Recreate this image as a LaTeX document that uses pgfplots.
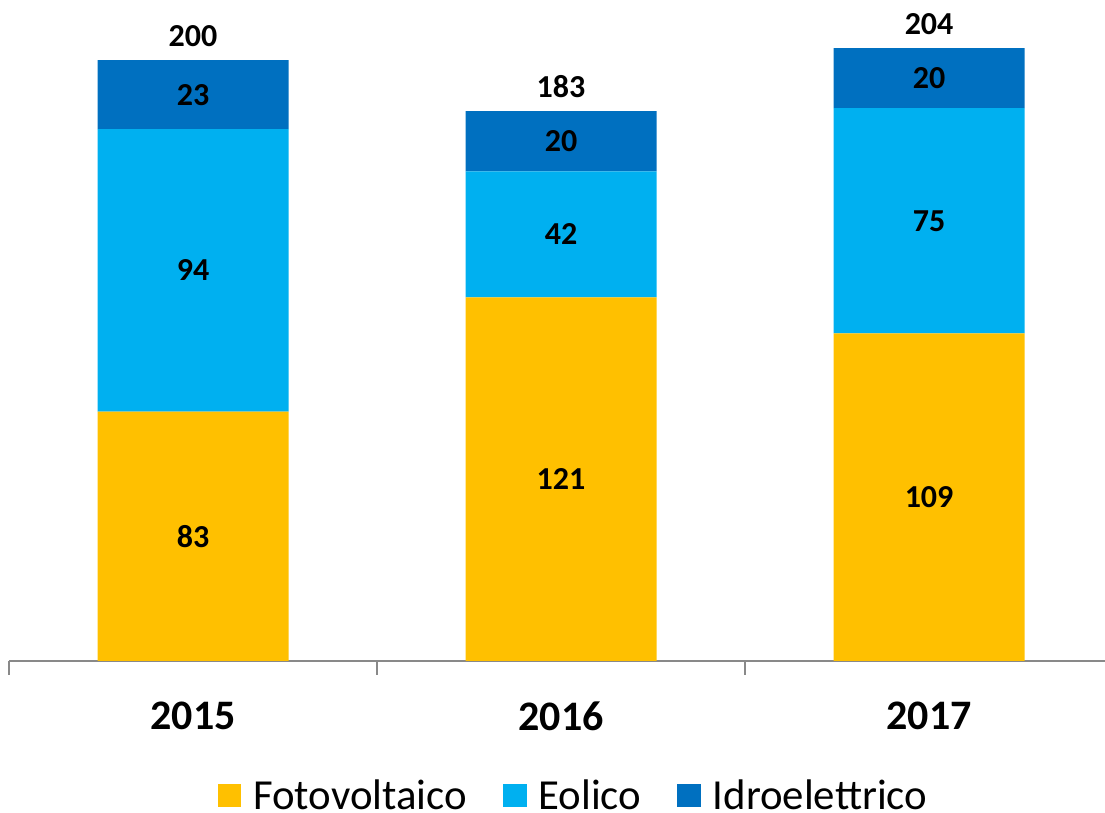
\documentclass[border=0pt]{standalone}
\usepackage{pgfplots}
\pgfplotsset{compat=1.18}
\usepackage{fontspec}
\setmainfont{Carlito}
\definecolor{foto}{HTML}{FFC000}
\definecolor{eol}{HTML}{00B0F0}
\definecolor{idro}{HTML}{0070C0}
\definecolor{axgray}{HTML}{898989}
\pgfplotsset{
  seglabel/.style={nodes near coords, point meta=explicit,
    every node near coord/.append style={anchor=center, text=black,
      font=\bfseries\fontsize{16}{19}\selectfont}},
}
\begin{document}
\begin{tikzpicture}
\useasboundingbox (0,0) rectangle (552.5pt,406.5pt);
\begin{axis}[
  at={(4.5pt,76pt)}, anchor=south west,
  scale only axis, width=548pt, height=330.5pt,
  xmin=-0.5, xmax=2.478, ymin=0, ymax=220,
  ybar stacked, bar width=95.5pt,
  axis x line*=bottom, axis y line=none,
  x axis line style={draw=axgray, line width=0.75pt, -},
  xtick={0,1,2}, xticklabels={2015,2016,2017},
  major tick length=0pt,
  minor xtick={-0.5,0.5,1.5},
  minor x tick style={draw=axgray, line width=0.75pt},
  minor tick length=7pt,
  tick align=outside,
  xticklabel style={font=\bfseries\fontsize{21}{25}\selectfont, yshift=-17pt},
  /pgf/number format/assume math mode=true,
  legend columns=3,
  legend style={at={(0.515,-0.2045)}, anchor=center, draw=none,
    font=\fontsize{21.4}{25}\selectfont,
    nodes={inner sep=1pt},
    /tikz/every odd column/.append style={column sep=5pt},
    /tikz/every even column/.append style={column sep=17pt}},
  legend image code/.code={\fill[#1] (0pt,-5.4pt) rectangle (11.8pt,6.2pt);},
]
\addplot[fill=foto, draw=none, seglabel] coordinates {(0,83) [83] (1,121) [121] (2,109) [109]};
\addplot[fill=eol, draw=none, seglabel] coordinates {(0,94) [94] (1,42) [42] (2,75) [75]};
\addplot[fill=idro, draw=none, seglabel] coordinates {(0,23) [23] (1,20) [20] (2,20) [20]};
\addplot[stack plots=false, draw=none, fill=none, nodes near coords, point meta=explicit,
  visualization depends on=rawy \as \rawy,
  every node near coord/.append style={anchor=south, text=black, yshift=3pt,
    shift={(axis direction cs:0,\rawy/2)},
    font=\bfseries\fontsize{16}{19}\selectfont}]
  coordinates {(0,200) [200] (1,183) [183] (2,204) [204]};
\legend{Fotovoltaico, Eolico, Idroelettrico}
\end{axis}
\end{tikzpicture}
\end{document}
